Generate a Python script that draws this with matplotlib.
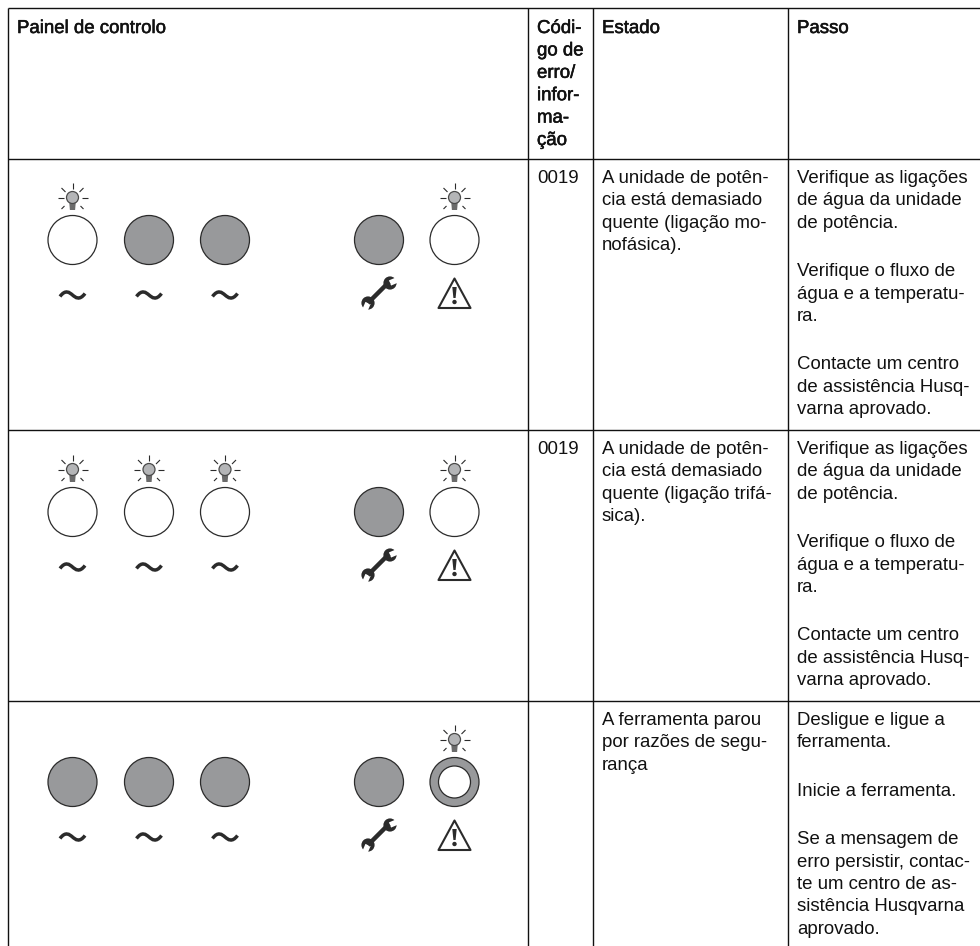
import matplotlib
matplotlib.use('Agg')
import matplotlib.pyplot as plt
import matplotlib.patheffects as pe
from matplotlib.patches import Circle, PathPatch, Polygon
from matplotlib.path import Path

plt.rcParams['font.family'] = ['Liberation Sans', 'DejaVu Sans']

# --- table content ------------------------------------------------------
headers = ['Painel de controlo', 'Códi-\ngo de\nerro/\ninfor-\nma-\nção', 'Estado', 'Passo']
codes = ['0019', '0019', '']
states = [
    ['A unidade de potên-', 'cia está demasiado', 'quente (ligação mo-', 'nofásica).'],
    ['A unidade de potên-', 'cia está demasiado', 'quente (ligação trifá-', 'sica).'],
    ['A ferramenta parou', 'por razões de segu-', 'rança'],
]
steps = [
    [['Verifique as ligações', 'de água da unidade', 'de potência.'],
     ['Verifique o fluxo de', 'água e a temperatu-', 'ra.'],
     ['Contacte um centro', 'de assistência Husq-', 'varna aprovado.']],
    [['Verifique as ligações', 'de água da unidade', 'de potência.'],
     ['Verifique o fluxo de', 'água e a temperatu-', 'ra.'],
     ['Contacte um centro', 'de assistência Husq-', 'varna aprovado.']],
    [['Desligue e ligue a', 'ferramenta.'],
     ['Inicie a ferramenta.'],
     ['Se a mensagem de', 'erro persistir, contac-', 'te um centro de as-', 'sistência Husqvarna', 'aprovado.']],
]
# lamp state per row: off / on / ring, and whether the bulb is shown
lamps = [
    ['on', 'off', 'off', 'off', 'on'],
    ['on', 'on', 'on', 'off', 'on'],
    ['off', 'off', 'off', 'off', 'ring'],
]
bulbs = [
    [True, False, False, False, True],
    [True, True, True, False, True],
    [False, False, False, False, True],
]
symbols = ['tilde', 'tilde', 'tilde', 'wrench', 'warning']

# --- layout in pixels ---------------------------------------------------
W, H = 980, 946
col_x = [8, 528, 593, 788]
row_y = [8.5, 159, 430, 701]
text_x = [17, 537, 602, 797]
lamp_x = [72.5, 149, 225, 379, 454.5]
lamp_y = [240, 512, 782]
LINE = 22.4
PARA = 26
FONT = 13.4
GREY = '#98999b'
DARK = '#2b2b2b'
BLACK = '#111111'

fig = plt.figure(figsize=(W / 100, H / 100), dpi=100)
ax = fig.add_axes([0, 0, 1, 1])
ax.set_xlim(0, W)
ax.set_ylim(H, 0)
ax.axis('off')


def draw_lines(x, y, lines, bold=False):
    for i, s in enumerate(lines):
        t = ax.text(x, y + i * LINE, s, fontsize=FONT, color=BLACK, va='baseline', ha='left')
        if bold:
            t.set_path_effects([pe.withStroke(linewidth=0.4, foreground=BLACK)])


def draw_bulb(cx, cy):
    # rays round the bulb
    for dx0, dy0, dx1, dy1 in [(-15, 0, -9, 0), (9, 0, 15, 0), (0, -15, 0, -9),
                               (-11, -10, -7, -6), (11, -10, 7, -6), (-11, 11, -8, 8), (11, 11, 8, 8)]:
        ax.plot([cx + dx0, cx + dx1], [cy + dy0, cy + dy1], color=DARK, lw=0.8, solid_capstyle='butt')
    ax.add_patch(Polygon([(cx - 3.2, cy + 5), (cx + 3.2, cy + 5), (cx + 2.6, cy + 12), (cx - 2.6, cy + 12)],
                         fc='#6b6b6b', ec='none'))
    ax.add_patch(Circle((cx, cy - 0.5), 6, fc='#b4b5b7', ec='#4a4a4a', lw=0.9))


def draw_lamp(cx, cy, state):
    fc = GREY if state in ('off', 'ring') else 'white'
    ax.add_patch(Circle((cx, cy), 24.5, fc=fc, ec=DARK, lw=0.9))
    if state == 'ring':
        ax.add_patch(Circle((cx, cy), 16, fc='white', ec=DARK, lw=0.9))


def draw_tilde(cx, cy):
    verts = [(cx - 12.5, cy + 1.5), (cx - 7, cy - 6), (cx - 3, cy - 2.5), (cx, cy),
             (cx + 3, cy + 2.5), (cx + 7, cy + 6), (cx + 12.5, cy - 1.5)]
    codes_ = [Path.MOVETO] + [Path.CURVE4] * 6
    ax.add_patch(PathPatch(Path(verts, codes_), fc='none', ec=DARK, lw=2.5, capstyle='butt'))


def draw_head(x, y, dx, dy):
    # solid head with a jaw cut out towards (dx, dy)
    ax.add_patch(Circle((x, y), 6.6, fc=DARK, ec='none'))
    nx, ny = -dy, dx
    w = 2.8
    ax.add_patch(Polygon([(x + nx * w, y + ny * w), (x - nx * w, y - ny * w),
                          (x - nx * w + dx * 9, y - ny * w + dy * 9),
                          (x + nx * w + dx * 9, y + ny * w + dy * 9)], fc='white', ec='none'))


def draw_wrench(cx, cy):
    ax.plot([cx - 11, cx + 10], [cy + 10, cy - 11], color=DARK, lw=3.2, solid_capstyle='butt')
    draw_head(cx + 11, cy - 10, 0.92, -0.39)
    draw_head(cx - 11, cy + 10, -0.39, 0.92)


def draw_warning(cx, cy):
    ax.add_patch(Polygon([(cx, cy - 14.5), (cx + 16, cy + 15), (cx - 16, cy + 15)], closed=True,
                         fc='white', ec=DARK, lw=1.5, joinstyle='round'))
    ax.add_patch(Polygon([(cx - 2.2, cy - 6), (cx + 2.2, cy - 6), (cx + 1.1, cy + 5), (cx - 1.1, cy + 5)],
                         fc=DARK, ec='none'))
    ax.add_patch(Circle((cx, cy + 9), 2.2, fc=DARK, ec='none'))


# grid, the table runs off the right edge and the bottom
for y in row_y:
    ax.plot([col_x[0], W], [y, y], color=BLACK, lw=1.0, solid_capstyle='butt')
for x in col_x:
    ax.plot([x, x], [row_y[0], H], color=BLACK, lw=1.0, solid_capstyle='butt')

# header row
for x, head in zip(text_x, headers):
    draw_lines(x, row_y[0] + 24.5, head.split('\n'), bold=True)

# body rows
for r in range(3):
    top = row_y[r + 1]
    for i, x in enumerate(lamp_x):
        draw_lamp(x, lamp_y[r], lamps[r][i])
        if bulbs[r][i]:
            draw_bulb(x, lamp_y[r] - 42)
        if symbols[i] == 'tilde':
            draw_tilde(x, lamp_y[r] + 55)
        elif symbols[i] == 'wrench':
            draw_wrench(x, lamp_y[r] + 53)
        else:
            draw_warning(x, lamp_y[r] + 53)
    if codes[r]:
        draw_lines(text_x[1], top + 24, [codes[r]])
    draw_lines(text_x[2], top + 24, states[r])
    y = top + 24
    for para in steps[r]:
        draw_lines(text_x[3], y, para)
        y += (len(para) - 1) * LINE + LINE + PARA

fig.savefig('out.png', dpi=100)
